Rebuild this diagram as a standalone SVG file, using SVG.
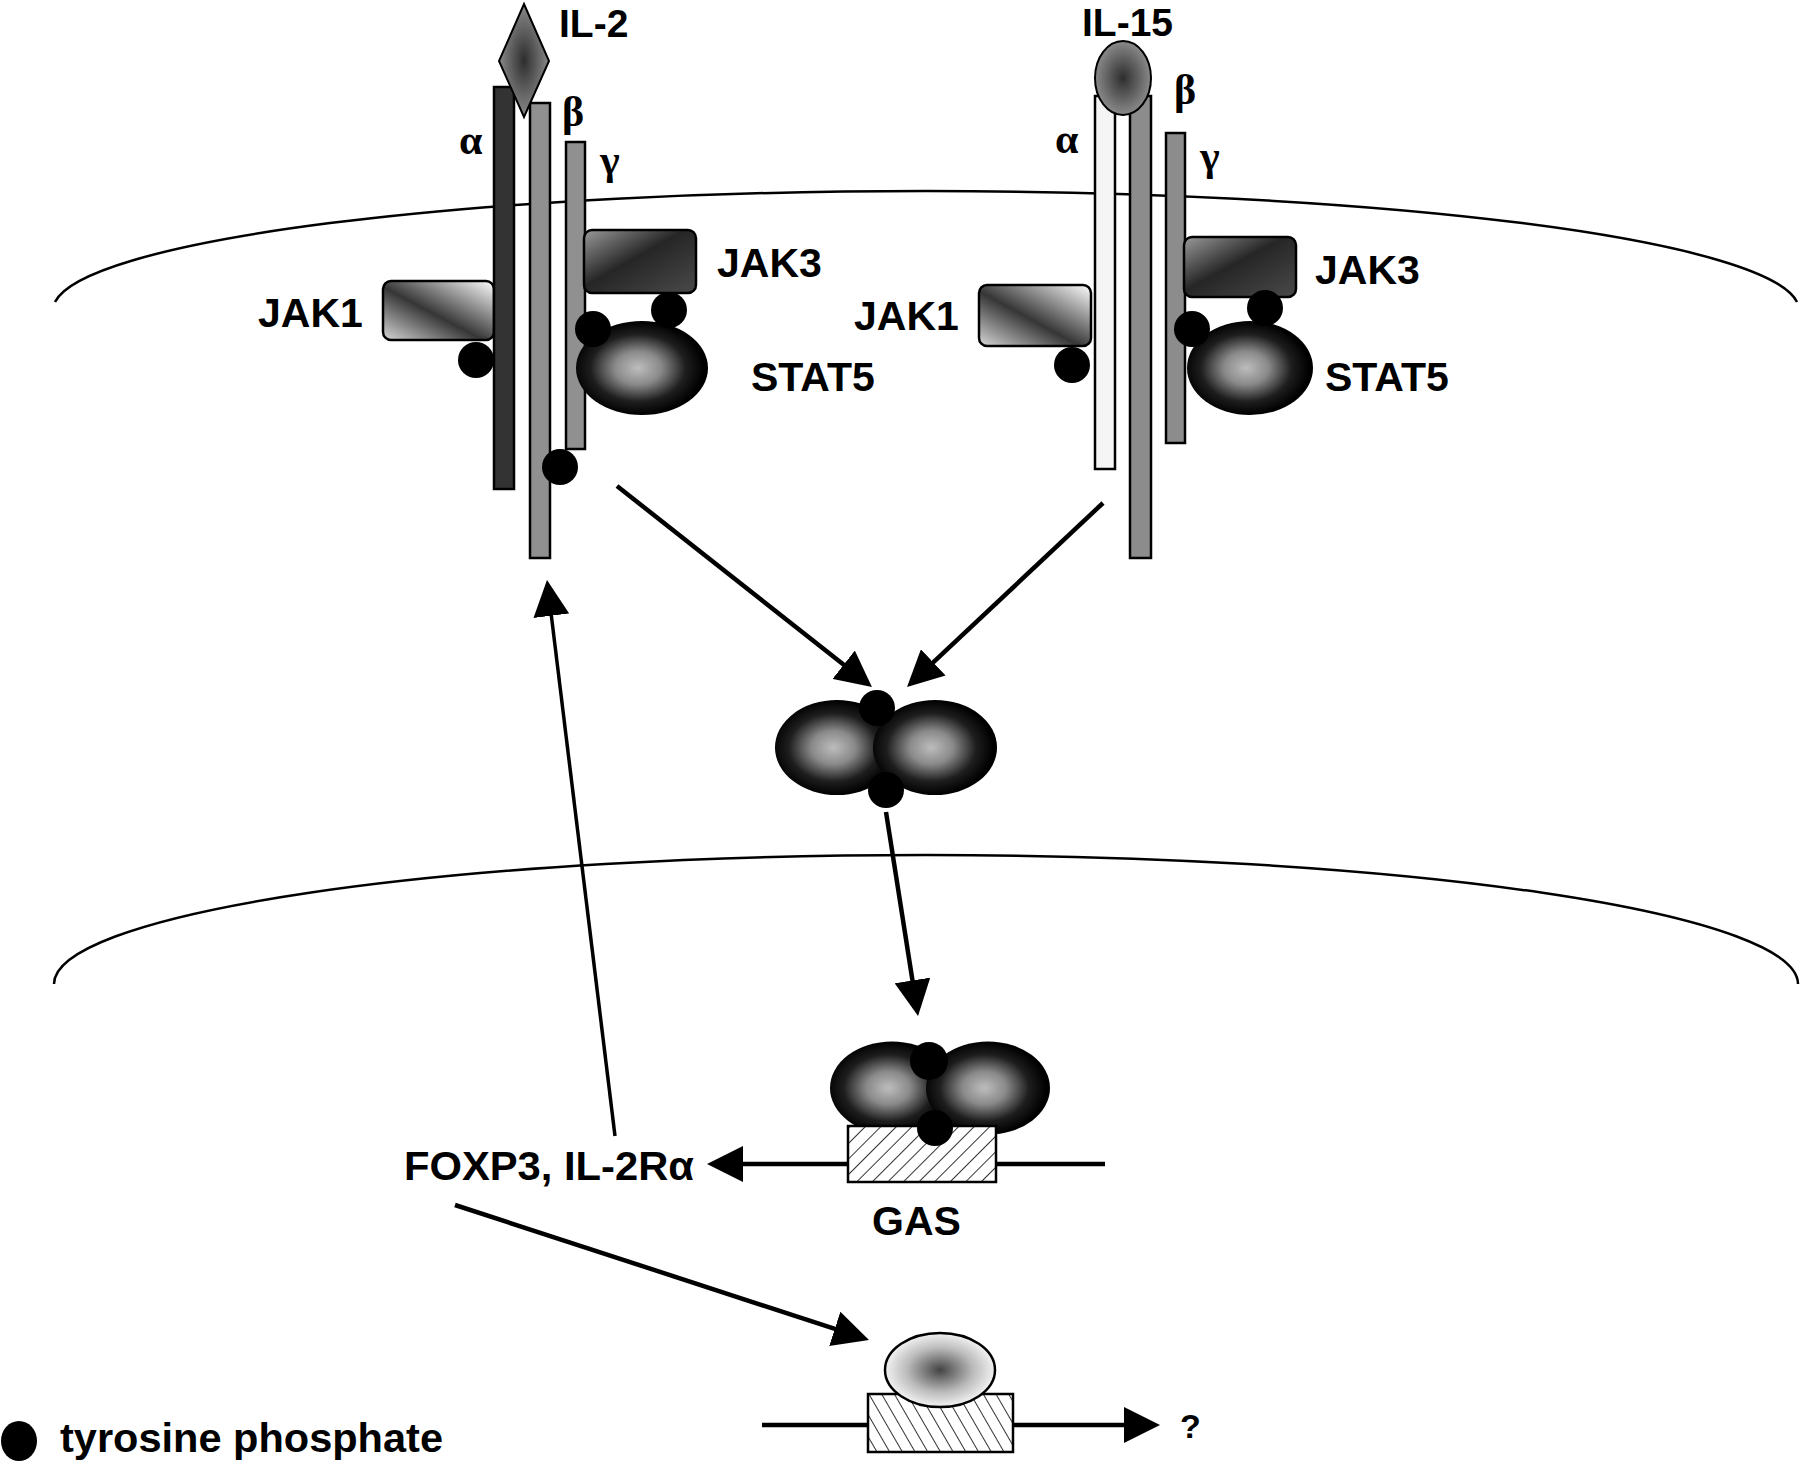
<svg xmlns="http://www.w3.org/2000/svg" width="1800" height="1465" viewBox="0 0 1800 1465">
<style>
.lbl{font-family:"Liberation Sans",Arial,sans-serif;font-weight:bold;font-size:41px;fill:#000}
.lig{font-size:39px}
.grk{font-family:"Liberation Serif","Times New Roman",serif;font-weight:bold;font-size:42px;fill:#000}
.mem{fill:none;stroke:#000;stroke-width:2.5}
.chain{stroke:#000;stroke-width:2.5}
.box{stroke:#000;stroke-width:2.5}
.dot{fill:#000}
.arr{fill:none;stroke:#000;stroke-width:4.5;marker-end:url(#ah)}
.stat{fill:url(#gStat)}
.hatch{stroke:#000;stroke-width:2.5}
</style>
<defs>
<marker id="ah" markerUnits="userSpaceOnUse" markerWidth="36" markerHeight="36" refX="26" refY="18" orient="auto">
<path d="M0,0 L36,18 L0,36 z" fill="#000"/>
</marker>
<linearGradient id="gJak1" x1="0" y1="1" x2="1" y2="0">
<stop offset="0" stop-color="#d8d8d8"/>
<stop offset="0.45" stop-color="#363636"/>
<stop offset="1" stop-color="#ffffff"/>
</linearGradient>
<linearGradient id="gJak3" x1="0" y1="0" x2="1" y2="1">
<stop offset="0" stop-color="#9a9a9a"/>
<stop offset="0.45" stop-color="#262626"/>
<stop offset="1" stop-color="#4a4a4a"/>
</linearGradient>
<radialGradient id="gStat" cx="0.47" cy="0.5" r="0.5">
<stop offset="0" stop-color="#bdbdbd"/>
<stop offset="0.35" stop-color="#8a8a8a"/>
<stop offset="0.72" stop-color="#1e1e1e"/>
<stop offset="1" stop-color="#000"/>
</radialGradient>
<radialGradient id="gLig" cx="0.5" cy="0.5" r="0.5">
<stop offset="0" stop-color="#2e2e2e"/>
<stop offset="1" stop-color="#8a8a8a"/>
</radialGradient>
<radialGradient id="gLow" cx="0.5" cy="0.5" r="0.5">
<stop offset="0" stop-color="#444"/>
<stop offset="0.6" stop-color="#bbb"/>
<stop offset="1" stop-color="#f2f2f2"/>
</radialGradient>
<pattern id="hatchR" patternUnits="userSpaceOnUse" width="11" height="11" patternTransform="rotate(45)">
<rect width="11" height="11" fill="#fff"/>
<line x1="0" y1="0" x2="0" y2="11" stroke="#333" stroke-width="2"/>
</pattern>
<pattern id="hatchL" patternUnits="userSpaceOnUse" width="11" height="11" patternTransform="rotate(-30)">
<rect width="11" height="11" fill="#fff"/>
<line x1="0" y1="0" x2="0" y2="11" stroke="#333" stroke-width="2"/>
</pattern>
</defs>
<rect width="1800" height="1465" fill="#fff"/>

<g id="membranes">
<path class="mem" d="M55,302 A873,119 0 0 1 1797,302"/>
<path class="mem" d="M54,984 A872,129 0 0 1 1798,984"/>
</g>

<g id="connectors">
<path class="arr" d="M617,486 L864.1,680.8"/>
<path class="arr" d="M1103,503 L914.3,680.2"/>
<path class="arr" d="M886,812 L916.5,1006.1"/>
<path class="arr" d="M1105,1164 L717,1164"/>
<path class="arr" style="stroke-width:3.5" d="M615,1136 L548.2,589.9"/>
<path class="arr" d="M455,1205 L859.5,1336.9"/>
<path class="arr" d="M762,1425 L1150,1425"/>
</g>

<g id="il2-receptor">
<rect x="383" y="281" width="111" height="59" rx="8" class="box" fill="url(#gJak1)"/>
<rect class="chain" x="494" y="87" width="20" height="402" fill="#333"/>
<rect class="chain" x="530" y="103" width="20" height="455" fill="#909090"/>
<rect class="chain" x="566" y="142" width="19" height="307" fill="#909090"/>
<rect x="584" y="230" width="112" height="63" rx="8" class="box" fill="url(#gJak3)"/>
<ellipse class="stat" cx="642" cy="368" rx="66" ry="47"/>
<circle class="dot" cx="476" cy="360" r="18"/>
<circle class="dot" cx="593" cy="329" r="18"/>
<circle class="dot" cx="669" cy="310" r="18"/>
<circle class="dot" cx="560" cy="467" r="18"/>
<path d="M524,4 L549,61 L524,117 L499,61 z" fill="url(#gLig)" stroke="#000" stroke-width="2"/>
<text class="lbl lig" x="559" y="37">IL-2</text>
<text class="grk" x="459" y="154">α</text>
<text class="grk" x="562" y="126">β</text>
<text class="grk" x="600" y="174">γ</text>
<text class="lbl" x="717" y="277">JAK3</text>
<text class="lbl" x="258" y="327">JAK1</text>
<text class="lbl" x="751" y="391">STAT5</text>
</g>

<g id="il15-receptor">
<rect x="979" y="285" width="112" height="61" rx="8" class="box" fill="url(#gJak1)"/>
<rect class="chain" x="1095" y="96" width="20" height="373" fill="#f5f5f5"/>
<rect class="chain" x="1130" y="96" width="21" height="462" fill="#8c8c8c"/>
<rect class="chain" x="1166" y="133" width="19" height="310" fill="#8c8c8c"/>
<rect x="1184" y="237" width="112" height="60" rx="8" class="box" fill="url(#gJak3)"/>
<ellipse class="stat" cx="1250" cy="368" rx="63" ry="47"/>
<circle class="dot" cx="1072" cy="365" r="18"/>
<circle class="dot" cx="1192" cy="329" r="18"/>
<circle class="dot" cx="1265" cy="308" r="18"/>
<ellipse cx="1123" cy="78" rx="28" ry="37" fill="url(#gLig)" stroke="#000" stroke-width="2"/>
<text class="lbl lig" x="1082" y="36">IL-15</text>
<text class="grk" x="1055" y="153">α</text>
<text class="grk" x="1174" y="104">β</text>
<text class="grk" x="1200" y="170">γ</text>
<text class="lbl" x="1315" y="284">JAK3</text>
<text class="lbl" x="854" y="330">JAK1</text>
<text class="lbl" x="1325" y="391">STAT5</text>
</g>

<g id="stat5-dimer">
<ellipse class="stat" cx="837" cy="747.5" rx="62" ry="47.5"/>
<ellipse class="stat" cx="935" cy="747.5" rx="62" ry="47.5"/>
<circle class="dot" cx="877" cy="708" r="18"/>
<circle class="dot" cx="886" cy="790" r="18"/>
</g>

<g id="gas-complex">
<line x1="1105" y1="1164" x2="996" y2="1164" stroke="#000" stroke-width="4"/>
<ellipse class="stat" cx="892" cy="1088" rx="62" ry="46.5"/>
<ellipse class="stat" cx="988" cy="1088" rx="62" ry="46.5"/>
<rect x="848" y="1126" width="148" height="56" fill="url(#hatchR)" class="hatch"/>
<circle class="dot" cx="929" cy="1061" r="19"/>
<circle class="dot" cx="935" cy="1128" r="18"/>
<text class="lbl" x="872" y="1235">GAS</text>
</g>

<g id="foxp3">
<text class="lbl" x="404" y="1180" textLength="290" lengthAdjust="spacingAndGlyphs">FOXP3, IL-2Rα</text>
</g>

<g id="target-gene">
<rect x="868" y="1394" width="145" height="58" fill="url(#hatchL)" class="hatch"/>
<ellipse cx="940" cy="1370" rx="55" ry="37" fill="url(#gLow)" stroke="#000" stroke-width="2.5"/>
<text class="lbl" x="1180" y="1438" style="font-size:34px">?</text>
</g>

<g id="legend">
<ellipse class="dot" cx="19" cy="1441" rx="18" ry="20"/>
<text class="lbl" x="60" y="1452" textLength="383" lengthAdjust="spacingAndGlyphs">tyrosine phosphate</text>
</g>
</svg>
